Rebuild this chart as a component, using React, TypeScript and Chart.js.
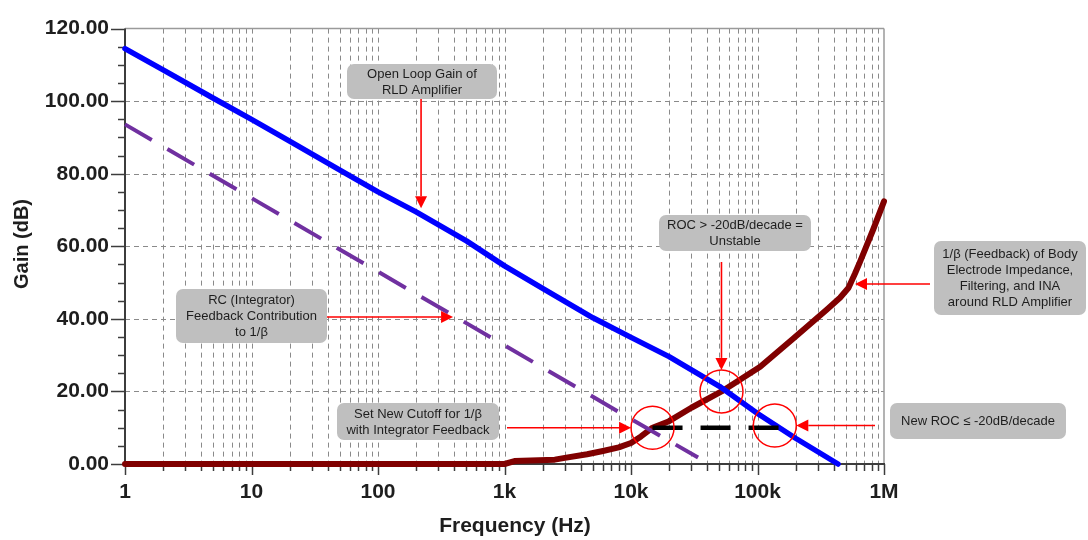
import React, { useEffect, useRef } from 'react';
import { Chart, registerables } from 'chart.js';

Chart.register(...registerables);

const FONT = '"Liberation Sans", Arial, Helvetica, sans-serif';

// Open-loop gain of the RLD amplifier (Hz, dB)
const OPEN_LOOP_FREQ = [1, 2, 5, 10, 20, 50, 100, 200, 500, 1e3, 2e3, 5e3, 1e4, 2e4, 5e4, 1e5, 2e5, 4.33e5];
const OPEN_LOOP_GAIN = [114.5, 108.6, 100.8, 95, 89, 81, 75, 69.5, 61.5, 54.6, 48.4, 40.3, 34.9, 29.6, 21.4, 13.9, 7.1, 0];

// RC (integrator) feedback contribution to 1/beta
const RC_FREQ = [1, 10, 100, 1e3, 1e4, 3.39e4];
const RC_GAIN = [93.6, 73.3, 53, 32.7, 12.4, 1.8];

// 1/beta of body electrode impedance, filtering and INA
const BETA_FREQ = [1, 1000, 1200, 2500, 3000, 4500, 6000, 8000, 1e4, 1.2e4, 1.48e4, 2e4, 3e4, 5.2e4, 1.05e5, 1.92e5, 3.52e5, 4.49e5, 5.23e5, 5.9e5, 6.46e5, 7.29e5, 8.23e5, 1e6];
const BETA_GAIN = [0, 0, 0.8, 1.2, 1.7, 2.7, 3.6, 4.6, 5.8, 7.6, 10, 11.8, 15.5, 20, 26.8, 34.6, 42.5, 45.8, 48.5, 52.5, 55.7, 60.2, 64.7, 72.4];

// New 1/beta cutoff with integrator feedback
const CUTOFF_FREQ = [1.48e4, 1.55e5];
const CUTOFF_GAIN = [10, 10];

// Axes
const FREQ_TICKS = [1, 10, 100, 1e3, 1e4, 1e5, 1e6];
const FREQ_TICK_LABELS = ['1', '10', '100', '1k', '10k', '100k', '1M'];
const GAIN_TICKS = [0, 20, 40, 60, 80, 100, 120];
const GAIN_MINOR_STEP = 5;

// Highlight rings (frequency, gain)
const RING_FREQ = [1.48e4, 5.19e4, 1.37e5];
const RING_GAIN = [10, 20, 10.6];
const RING_RADIUS = 21.5;

type Callout = {
  text: string[];
  rect: [number, number, number, number];
  from: 'bottom' | 'right' | 'left';
  gap: number;
  tip?: { f: number; g: number };
  ring?: number;
};

const CALLOUTS: Callout[] = [
  { text: ['Open Loop Gain of', 'RLD Amplifier'], rect: [347, 64, 150, 35], from: 'bottom', gap: 0, tip: { f: 219, g: 70.5 } },
  { text: ['RC (Integrator)', 'Feedback Contribution', 'to 1/\u03b2'], rect: [176, 289, 151, 54], from: 'right', gap: 0, tip: { f: 392, g: 40.5 } },
  { text: ['ROC > -20dB/decade =', 'Unstable'], rect: [659, 215, 152, 36], from: 'bottom', gap: 11, ring: 1 },
  { text: ['1/\u03b2 (Feedback) of Body', 'Electrode Impedance,', 'Filtering, and INA', 'around RLD Amplifier'], rect: [934, 241, 152, 74], from: 'left', gap: 4, tip: { f: 5.9e5, g: 49.6 } },
  { text: ['New ROC \u2264 -20dB/decade'], rect: [890, 403, 176, 36], from: 'left', gap: 15, ring: 2 },
  { text: ['Set New Cutoff for 1/\u03b2', 'with Integrator Feedback'], rect: [337, 403, 162, 37], from: 'right', gap: 8, ring: 0 },
];

const pairs = (xs: number[], ys: number[]) => xs.map((x, i) => ({ x, y: ys[i] }));

function seg(ctx: CanvasRenderingContext2D, x1: number, y1: number, x2: number, y2: number) {
  ctx.beginPath();
  ctx.moveTo(x1, y1);
  ctx.lineTo(x2, y2);
  ctx.stroke();
}

function roundRect(ctx: CanvasRenderingContext2D, x: number, y: number, w: number, h: number, r: number) {
  ctx.beginPath();
  ctx.moveTo(x + r, y);
  ctx.lineTo(x + w - r, y);
  ctx.arcTo(x + w, y, x + w, y + r, r);
  ctx.lineTo(x + w, y + h - r);
  ctx.arcTo(x + w, y + h, x + w - r, y + h, r);
  ctx.lineTo(x + r, y + h);
  ctx.arcTo(x, y + h, x, y + h - r, r);
  ctx.lineTo(x, y + r);
  ctx.arcTo(x, y, x + r, y, r);
  ctx.closePath();
}

const framePlugin = {
  id: 'bodeFrame',
  beforeDatasetsDraw(chart: any) {
    const { ctx, chartArea: a, scales } = chart;
    const xs = scales.x;
    const ys = scales.y;
    ctx.save();

    // dashed grid
    ctx.lineWidth = 1;
    ctx.strokeStyle = '#8a8a8a';
    ctx.setLineDash([5, 4]);
    GAIN_TICKS.forEach((g) => {
      if (g === GAIN_TICKS[0] || g === GAIN_TICKS[GAIN_TICKS.length - 1]) return;
      const py = Math.round(ys.getPixelForValue(g)) + 0.5;
      seg(ctx, a.left, py, a.right, py);
    });
    for (let k = 0; k < 6; k++) {
      for (let m = 1; m <= 9; m++) {
        const f = m * Math.pow(10, k);
        if (f <= 1) continue;
        const px = Math.round(xs.getPixelForValue(f)) + 0.5;
        seg(ctx, px, a.top, px, a.bottom);
      }
    }
    ctx.setLineDash([]);

    // frame top / right
    ctx.strokeStyle = '#9a9a9a';
    ctx.lineWidth = 1.5;
    seg(ctx, a.left, a.top, a.right, a.top);
    seg(ctx, a.right, a.top, a.right, a.bottom);

    // axes
    ctx.strokeStyle = '#3c3c3c';
    ctx.lineWidth = 2;
    seg(ctx, a.left, a.top, a.left, a.bottom + 1);
    seg(ctx, a.left - 1, a.bottom, a.right + 1, a.bottom);

    // y tick marks
    ctx.lineWidth = 1.5;
    const gMin = GAIN_TICKS[0];
    const gMax = GAIN_TICKS[GAIN_TICKS.length - 1];
    for (let g = gMin; g <= gMax; g += GAIN_MINOR_STEP) {
      const py = Math.round(ys.getPixelForValue(g)) + 0.5;
      const major = GAIN_TICKS.includes(g);
      seg(ctx, a.left - (major ? 14 : 7), py, a.left, py);
    }
    // x tick marks
    for (let k = 0; k <= 6; k++) {
      for (let m = 1; m <= 9; m++) {
        const f = m * Math.pow(10, k);
        if (f > 1e6) break;
        const px = Math.round(xs.getPixelForValue(f)) + 0.5;
        seg(ctx, px, a.bottom, px, a.bottom + (m === 1 ? 11 : 7));
      }
    }
    ctx.restore();
  },
  afterDatasetsDraw(chart: any) {
    const { ctx, scales } = chart;
    const xs = scales.x;
    const ys = scales.y;
    ctx.save();

    const rings = RING_FREQ.map((f, i) => ({ x: xs.getPixelForValue(f), y: ys.getPixelForValue(RING_GAIN[i]) }));
    ctx.strokeStyle = '#ff0000';
    ctx.lineWidth = 1.5;
    rings.forEach((r) => {
      ctx.beginPath();
      ctx.arc(r.x, r.y, RING_RADIUS, 0, Math.PI * 2);
      ctx.stroke();
    });

    CALLOUTS.forEach((c) => {
      const [bx, by, bw, bh] = c.rect;
      roundRect(ctx, bx, by, bw, bh, 7);
      ctx.fillStyle = '#bfbfbf';
      ctx.fill();
      ctx.fillStyle = '#1e1e1e';
      ctx.font = `13px ${FONT}`;
      ctx.textAlign = 'center';
      ctx.textBaseline = 'middle';
      const lh = 16;
      c.text.forEach((t, i) => {
        ctx.fillText(t, bx + bw / 2, by + bh / 2 + (i - (c.text.length - 1) / 2) * lh + 0.5);
      });

      // arrow tip
      let tx: number;
      let ty: number;
      if (c.ring !== undefined) {
        const r = rings[c.ring];
        if (c.from === 'bottom') { tx = r.x; ty = r.y - RING_RADIUS; }
        else if (c.from === 'left') { tx = r.x + RING_RADIUS; ty = r.y; }
        else { tx = r.x - RING_RADIUS; ty = r.y; }
      } else {
        tx = xs.getPixelForValue(c.tip!.f);
        ty = ys.getPixelForValue(c.tip!.g);
      }
      let sx: number;
      let sy: number;
      if (c.from === 'bottom') { sx = tx; sy = by + bh + c.gap; }
      else if (c.from === 'right') { sx = bx + bw + c.gap; sy = ty; }
      else { sx = bx - c.gap; sy = ty; }

      const ang = Math.atan2(ty - sy, tx - sx);
      const headLen = 12;
      const headHalf = 6;
      const hx = tx - Math.cos(ang) * headLen;
      const hy = ty - Math.sin(ang) * headLen;
      ctx.strokeStyle = '#ff0000';
      ctx.fillStyle = '#ff0000';
      ctx.lineWidth = 1.6;
      seg(ctx, sx, sy, hx, hy);
      ctx.beginPath();
      ctx.moveTo(tx, ty);
      ctx.lineTo(hx + Math.sin(ang) * headHalf, hy - Math.cos(ang) * headHalf);
      ctx.lineTo(hx - Math.sin(ang) * headHalf, hy + Math.cos(ang) * headHalf);
      ctx.closePath();
      ctx.fill();
    });
    ctx.restore();
  },
  afterDraw(chart: any) {
    const { ctx } = chart;
    ctx.save();
    ctx.fillStyle = '#1e1e1e';
    ctx.textAlign = 'center';
    ctx.textBaseline = 'middle';
    ctx.font = `bold 21px ${FONT}`;
    ctx.fillText('Frequency (Hz)', 515, 526);
    ctx.translate(22, 244);
    ctx.rotate(-Math.PI / 2);
    ctx.font = `bold 20px ${FONT}`;
    ctx.fillText('Gain (dB)', 0, 0);
    ctx.restore();
  },
};

export default function App() {
  const canvasRef = useRef<HTMLCanvasElement | null>(null);

  useEffect(() => {
    document.body.style.margin = '0';
    const canvas = canvasRef.current;
    if (!canvas) return;
    const chart = new Chart(canvas, {
      type: 'line',
      data: {
        datasets: [
          {
            label: 'Open Loop Gain',
            data: pairs(OPEN_LOOP_FREQ, OPEN_LOOP_GAIN),
            borderColor: '#0000ff',
            borderWidth: 5.5,
            pointRadius: 0,
            borderCapStyle: 'round',
            borderJoinStyle: 'round',
            clip: false,
            order: 2,
          },
          {
            label: 'RC Feedback',
            data: pairs(RC_FREQ, RC_GAIN),
            borderColor: '#7030a0',
            borderWidth: 4,
            borderDash: [31, 18],
            pointRadius: 0,
            clip: false,
            order: 1,
          },
          {
            label: '1/beta',
            data: pairs(BETA_FREQ, BETA_GAIN),
            borderColor: '#800000',
            borderWidth: 6,
            pointRadius: 0,
            borderCapStyle: 'round',
            borderJoinStyle: 'round',
            clip: false,
            order: 3,
          },
          {
            label: 'New cutoff',
            data: pairs(CUTOFF_FREQ, CUTOFF_GAIN),
            borderColor: '#000000',
            borderWidth: 4.5,
            borderDash: [30, 18],
            pointRadius: 0,
            clip: false,
            order: 0,
          },
        ],
      },
      options: {
        responsive: false,
        animation: false,
        parsing: true,
        layout: { padding: { top: 21, right: 204, left: 0, bottom: 0 } },
        plugins: { legend: { display: false }, tooltip: { enabled: false } },
        scales: {
          x: {
            type: 'logarithmic',
            min: FREQ_TICKS[0],
            max: FREQ_TICKS[FREQ_TICKS.length - 1],
            grid: { display: false, drawTicks: false },
            border: { display: false },
            afterBuildTicks: (scale: any) => {
              scale.ticks = FREQ_TICKS.map((value) => ({ value }));
            },
            afterFit: (scale: any) => {
              scale.height = 76;
            },
            ticks: {
              autoSkip: false,
              maxRotation: 0,
              padding: 16,
              color: '#1e1e1e',
              font: { family: FONT, size: 21, weight: 'bold' },
              callback: (value: any) => FREQ_TICK_LABELS[FREQ_TICKS.indexOf(Number(value))] ?? '',
            },
          },
          y: {
            type: 'linear',
            min: GAIN_TICKS[0],
            max: GAIN_TICKS[GAIN_TICKS.length - 1],
            grid: { display: false, drawTicks: false },
            border: { display: false },
            afterBuildTicks: (scale: any) => {
              scale.ticks = GAIN_TICKS.map((value) => ({ value }));
            },
            afterFit: (scale: any) => {
              scale.width = 125;
            },
            ticks: {
              padding: 16,
              color: '#1e1e1e',
              font: { family: FONT, size: 21, weight: 'bold' },
              callback: (value: any) => Number(value).toFixed(2),
            },
          },
        },
      },
      plugins: [framePlugin],
    } as any);
    return () => chart.destroy();
  }, []);

  return (
    <div style={{ width: 1088, height: 540, background: '#ffffff' }}>
      <canvas ref={canvasRef} width={1088} height={540} style={{ width: 1088, height: 540, display: 'block' }} />
    </div>
  );
}
